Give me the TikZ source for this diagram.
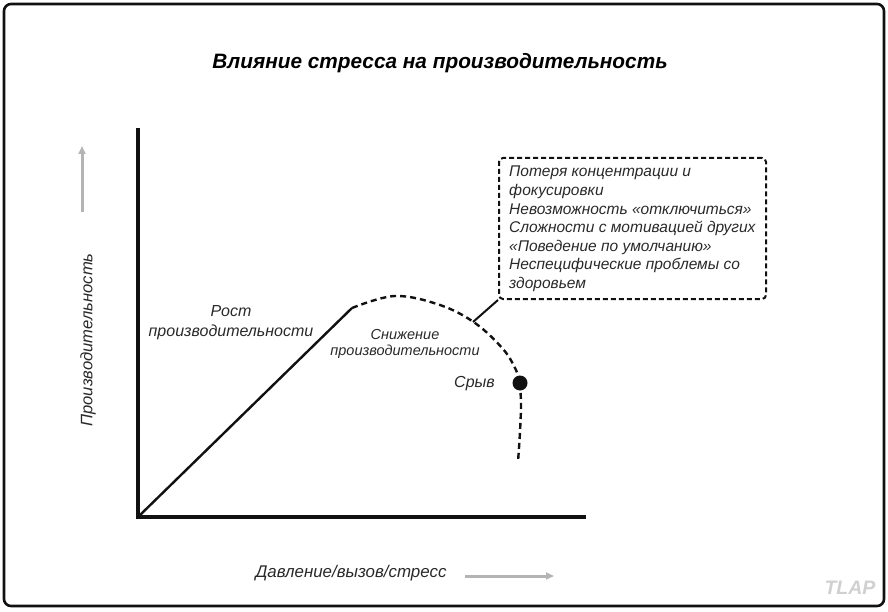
\documentclass[tikz,border=0pt]{standalone}
\usepackage{fontspec}
\setmainfont{Liberation Sans}
\usepackage{tikz}
\usetikzlibrary{arrows.meta,positioning,calc}
\definecolor{Ink}{HTML}{111111}
\definecolor{Hint}{HTML}{B4B4B4}
\definecolor{Mark}{HTML}{D0D0D0}
\tikzset{
  lbl/.style={font=\itshape\fontsize{16}{20}\selectfont,text=Ink!90,align=center,inner sep=0pt},
  curvedash/.style={Ink,line width=2.4pt,dash pattern=on 6pt off 4pt},
  hintarrow/.style={Hint,line width=3pt,-{Triangle[length=8pt,width=7pt]}}
}

\begin{document}
\begin{tikzpicture}[x=1pt,y=-1pt]
  \useasboundingbox (0,0) rectangle (888,612);
  \draw[Ink,line width=2.6pt,rounded corners=7pt] (4,4) rectangle (884,606);
  \node[font=\bfseries\itshape\fontsize{20.8}{24}\selectfont] (title) at (440,63) {Влияние стресса на производительность};
  % axes
  \coordinate (orig) at (138,517);
  \draw[Ink,line width=3.6pt] (138,128) -- (orig) -- (586,517);
  \node[lbl,rotate=90,font=\itshape\fontsize{16.6}{20}\selectfont] (ylab) at (88,340) {Производительность};
  \node[lbl,font=\itshape\fontsize{16.9}{20}\selectfont] (xlab) at (351,573) {Давление/вызов/стресс};
  \draw[hintarrow] (82,212) -- (82,146);
  \draw[hintarrow] (465,576) -- (554,576);
  % curve
  \coordinate (kink) at (352,308);
  \coordinate (fail) at (520,383);
  \draw[Ink,line width=2.4pt] (orig) -- (kink);
  \draw[curvedash] plot[smooth,tension=0.6] coordinates {(kink) (395,296) (440,305) (475,323) (503,349) (516,370) (fail)};
  \draw[curvedash] plot[smooth] coordinates {(fail) (521,405) (520,432) (518,462)};
  \fill[Ink] (fail) circle (7.5pt);
  \node[lbl] (grow) at (231,323) {Рост\\производительности};
  \node[lbl,font=\itshape\fontsize{14.5}{16.5}\selectfont] (drop) at (405,344) {Снижение\\производительности};
  \node[lbl,anchor=east] (crash) at (495,384) {Срыв};
  % symptoms
  \node[draw=Ink,line width=2pt,dash pattern=on 5pt off 3pt,rounded corners=4pt,anchor=north west,
        minimum width=267pt,minimum height=141pt,inner sep=0pt] (box) at (498,157) {};
  \node[lbl,align=left,anchor=north west,font=\itshape\fontsize{15.5}{18.6}\selectfont] (symp) at (509,166)
    {Потеря концентрации и\\фокусировки\\Невозможность «отключиться»\\Сложности с мотивацией других\\«Поведение по умолчанию»\\Неспецифические проблемы со\\здоровьем};
  \coordinate (tap) at (473,322);
  \draw[Ink,line width=2pt] (tap) -- (box.south west);
  \node[font=\bfseries\itshape\fontsize{19.5}{22}\selectfont,text=Mark] (tlap) at (850,588) {TLAP};
\end{tikzpicture}
\end{document}
